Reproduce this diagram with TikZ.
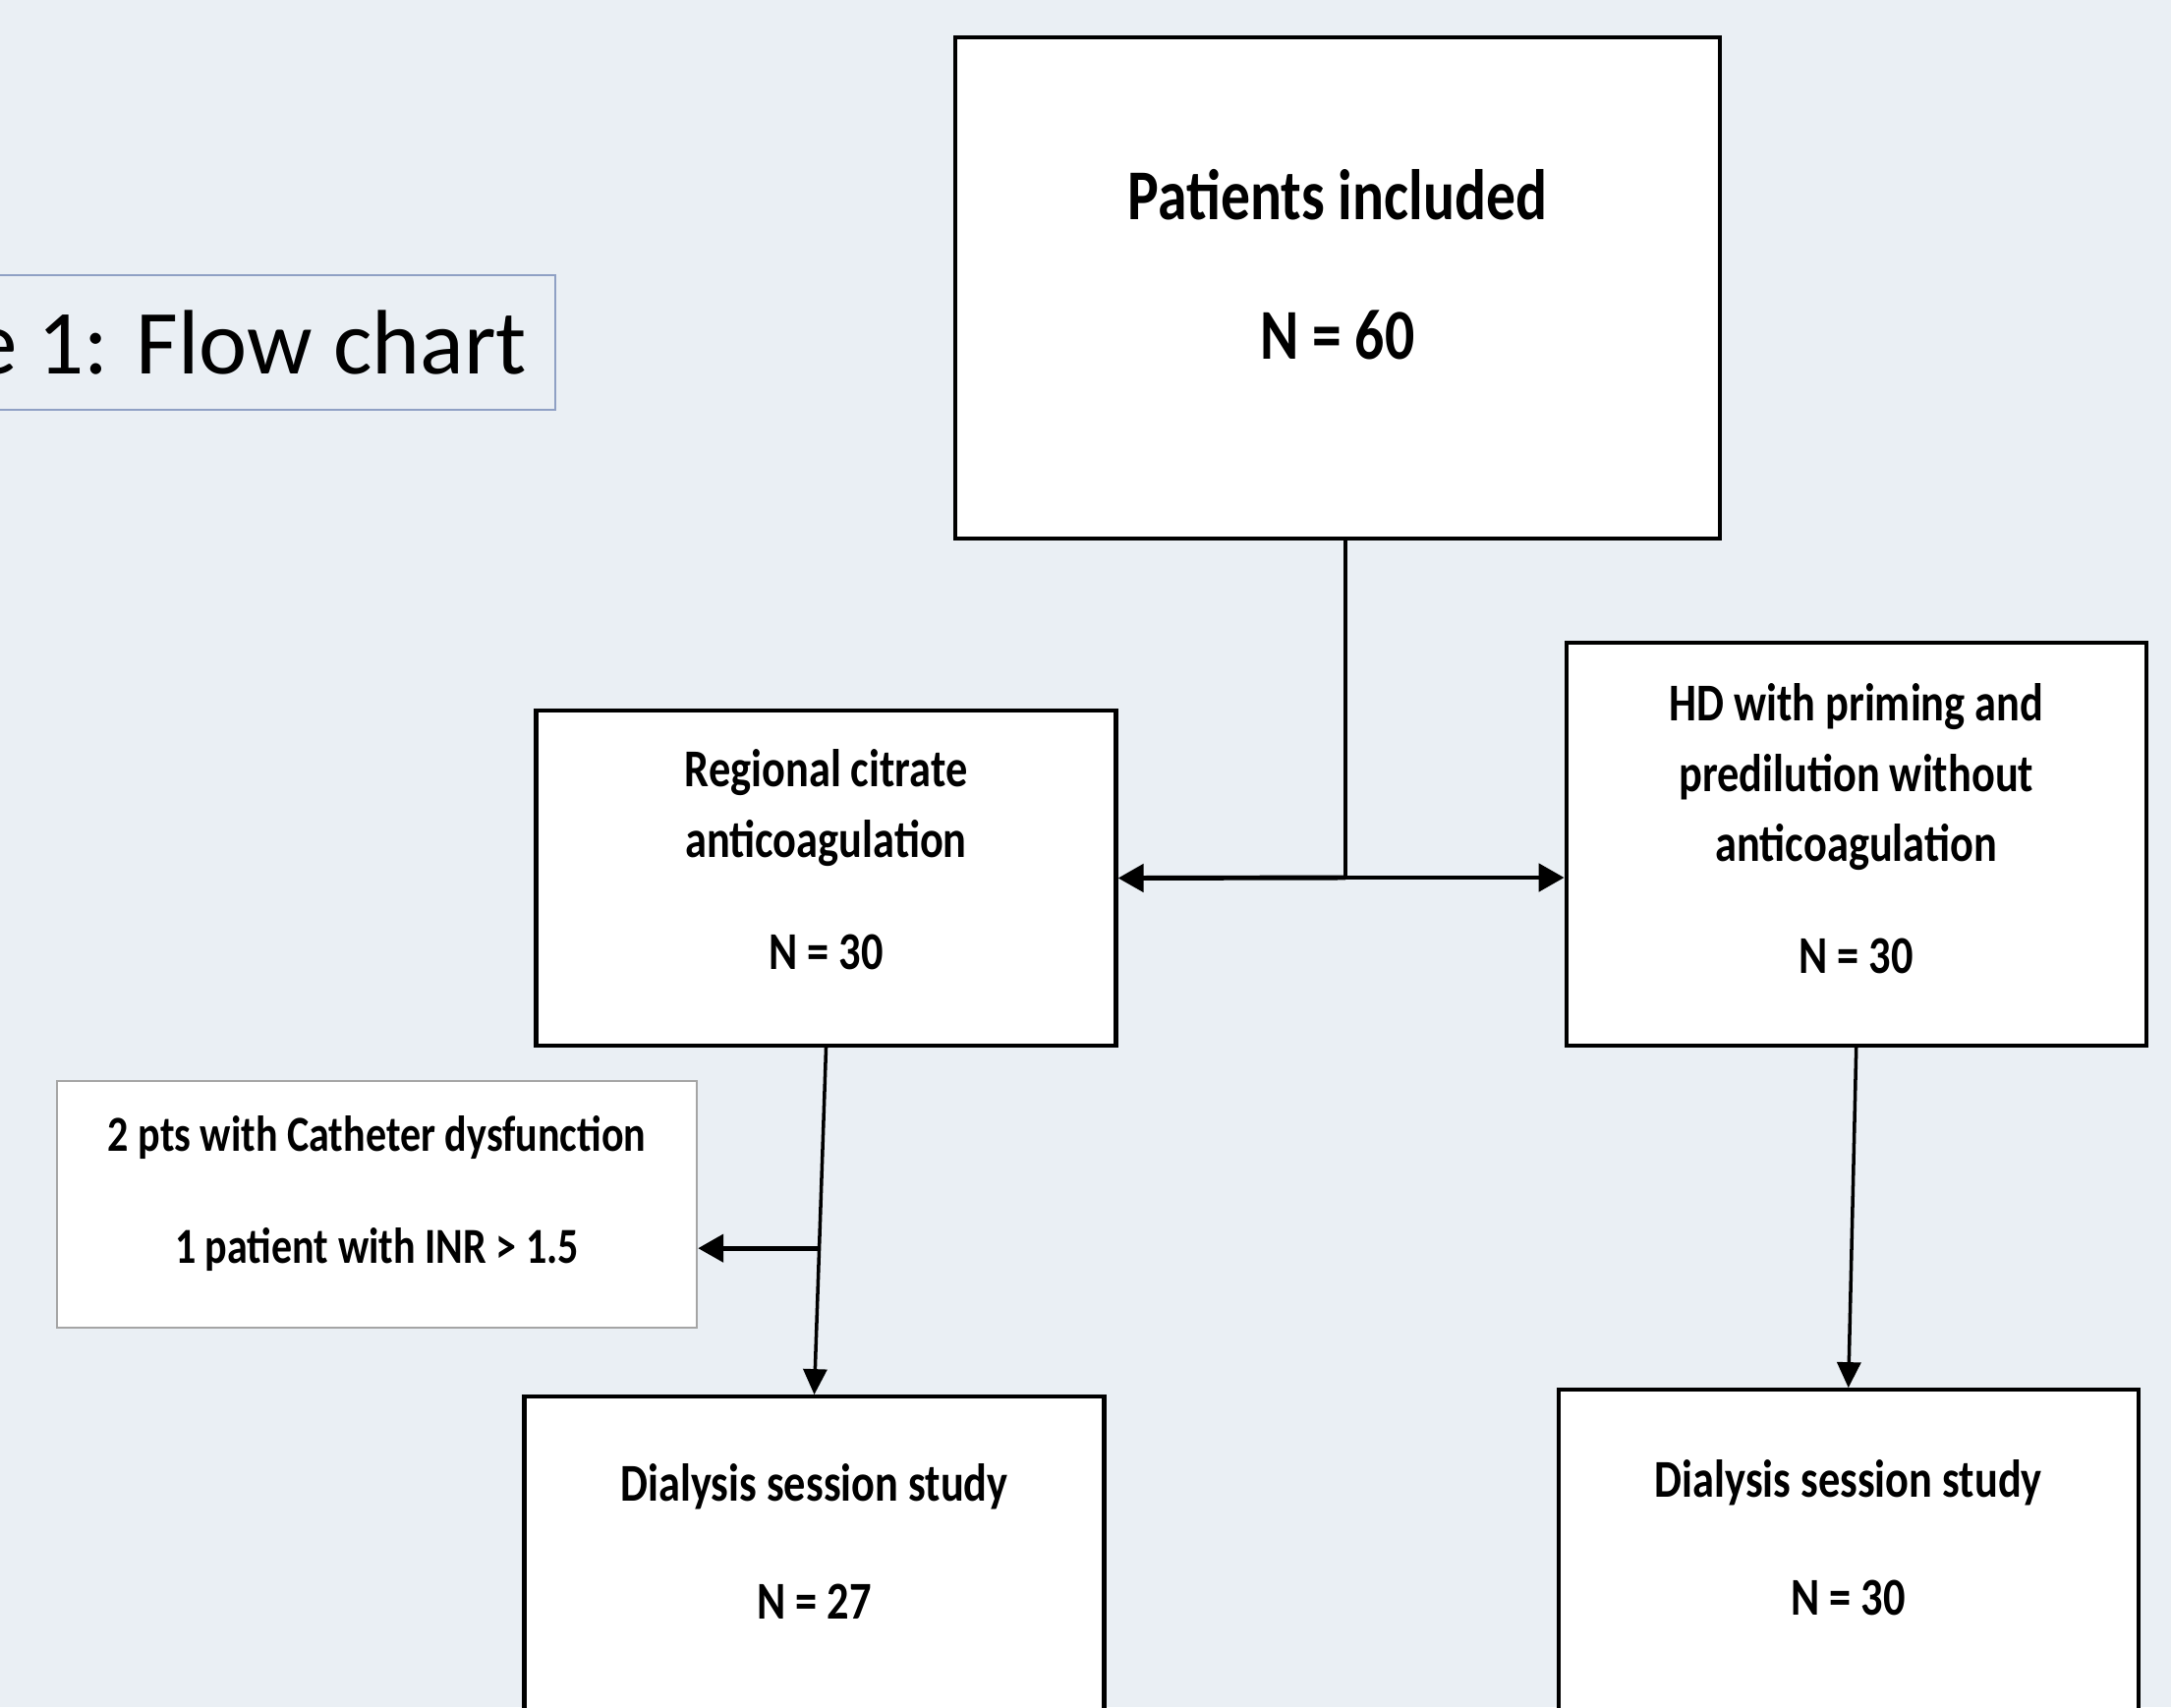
\documentclass[tikz,border=0pt]{standalone}
\usepackage{fontspec}
\setmainfont{Carlito}
\newfontfamily\boxfont[FakeStretch=0.82]{Carlito}
\usetikzlibrary{positioning,arrows.meta,calc}
\definecolor{bgcolor}{RGB}{234,239,244}
\definecolor{titleframe}{RGB}{143,160,196}
\definecolor{exclframe}{RGB}{165,165,165}
\newcommand{\dpad}[1]{\rule[-#1]{0pt}{#1}}
\tikzstyle{mainbox} = [rectangle, draw=black, line width=1.2pt, fill=white, align=center, minimum width=7.78cm, minimum height=5.10cm, inner sep=0pt, font=\boxfont\bfseries\fontsize{20.7}{25}\selectfont]
\tikzstyle{groupbox} = [rectangle, draw=black, line width=1.2pt, fill=white, align=center, minimum width=5.9cm, inner sep=0pt, font=\boxfont\bfseries\fontsize{15.4}{20.4}\selectfont]
\tikzstyle{exclbox} = [rectangle, draw=exclframe, line width=0.7pt, fill=white, align=center, minimum width=6.51cm, minimum height=2.51cm, inner sep=0pt, font=\boxfont\bfseries\fontsize{14.6}{19.4}\selectfont]
\tikzstyle{titlebox} = [rectangle, draw=titleframe, line width=0.7pt, minimum height=1.37cm, inner xsep=0.29cm, inner ysep=0pt, font=\fontsize{26.5}{32}\selectfont]
\tikzstyle{arrow} = [line width=1pt, -{Triangle[length=0.26cm, width=0.24cm]}]
\tikzstyle{thickarrow} = [line width=1.4pt, -{Triangle[length=0.26cm, width=0.28cm]}]
\tikzstyle{link} = [line width=1pt]

\begin{document}
\begin{tikzpicture}
        % Fundo e tamanho da página
        \fill[bgcolor] (0,0) rectangle (22.09,-17.37);
        \useasboundingbox (0,0) rectangle (22.09,-17.37);
        % Título
        \node (title) [titlebox, anchor=east] at (5.66,-3.485) {e 1: Flow chart};
        % Nó principal
        \node (patients) [mainbox] at (13.61,-2.93) {Patients included\\[0.54cm]N = 60\dpad{0.48cm}};
        % Os dois grupos
        \node (citrate) [groupbox, minimum height=3.41cm] at (8.405,-8.935) {Regional citrate\\anticoagulation\\[0.42cm]N = 30\dpad{0.38cm}};
        \node (hd) [groupbox, minimum height=4.10cm, right=4.54cm of citrate.south east, anchor=south west] {HD with priming and\\predilution without\\anticoagulation\\[0.42cm]N = 30\dpad{0.32cm}};
        % Pacientes excluídos
        \node (excl) [exclbox] at (3.835,-12.255) {2 pts with Catheter dysfunction\\[0.46cm]1 patient with INR > 1.5\dpad{0.30cm}};
        % Sessões de diálise
        \node (sessL) [groupbox, minimum height=4cm, below=3.53cm of citrate, xshift=-0.12cm] {Dialysis session study\\[0.48cm]N = 27\dpad{1.05cm}};
        \node (sessR) [groupbox, minimum height=4cm, below=3.46cm of hd, xshift=-0.08cm] {Dialysis session study\\[0.48cm]N = 30\dpad{0.99cm}};
        % Conexões
        \coordinate (split) at (13.69,-8.93);
        \draw [link] (patients.south -| split) -- (split);
        \draw [thickarrow] (split) -- (citrate.east);
        \draw [thickarrow] (split) -- (hd.west |- split);
        \draw [arrow] (citrate.south) -- (sessL.north);
        \coordinate (drop) at ($(citrate.south)!0.578!(sessL.north)$);
        \draw [thickarrow] (drop) -- (excl.east |- drop);
        \draw [arrow] (hd.south) -- (sessR.north);
    \end{tikzpicture}
\end{document}
